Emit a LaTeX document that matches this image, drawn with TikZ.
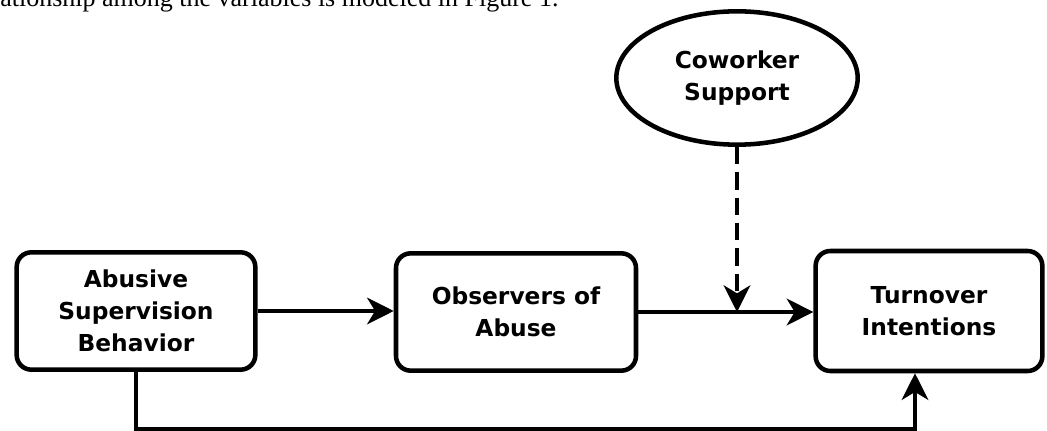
\documentclass[tikz,border=0pt]{standalone}
\usepackage{fontspec}
\setmainfont{Liberation Serif}
\newfontfamily\boxfont{DejaVu Sans}
\usetikzlibrary{arrows.meta,shapes.geometric}

\begin{document}
\begin{tikzpicture}[x=0.75pt, y=-0.75pt,
    >={Stealth[length=20pt, width=20pt, inset=6pt]},
    varbox/.style={draw, line width=3.4pt, rounded corners=11pt, align=center,
      font=\boxfont\bfseries\fontsize{17.5}{24}\selectfont, inner sep=0pt},
    moderator/.style={draw, ellipse, line width=3.4pt, align=center,
      font=\boxfont\bfseries\fontsize{17.5}{24}\selectfont, inner sep=0pt},
    link/.style={->, line width=2.8pt}]

    \useasboundingbox (0,0) rectangle (1047,431);

    %% running text above the figure
    \node[anchor=base west, inner sep=0pt, font=\fontsize{19.5}{24}\selectfont]
      (caption) at (0,7) {ationship among the variables is modeled in Figure 1.};

    %% variables
    \node[varbox, minimum width=179pt, minimum height=88pt] (abusive) at (136,311)
      {Abusive\\Supervision\\Behavior};
    \node[varbox, minimum width=180pt, minimum height=88pt] (observers) at (516,312)
      {Observers of\\Abuse};
    \node[varbox, minimum width=170pt, minimum height=90pt] (turnover) at (929,311)
      {Turnover\\Intentions};
    \node[moderator, minimum width=181pt, minimum height=100pt] (coworker) at (737,78)
      {Coworker\\Support};

    %% paths
    \draw[link] (abusive.east) -- (abusive.east -| observers.west);
    \draw[link] (observers.east) -- (observers.east -| turnover.west);
    \coordinate (joint) at (coworker.south |- observers.east);
    \draw[link, dash pattern=on 13pt off 6pt] (coworker.south) -- (joint);
    \coordinate (corner1) at (abusive.south |- 0,429);
    \coordinate (corner2) at (915,429);
    \draw[link] (abusive.south) -- (corner1) -- (corner2) -- (corner2 |- turnover.south);
\end{tikzpicture}
\end{document}
